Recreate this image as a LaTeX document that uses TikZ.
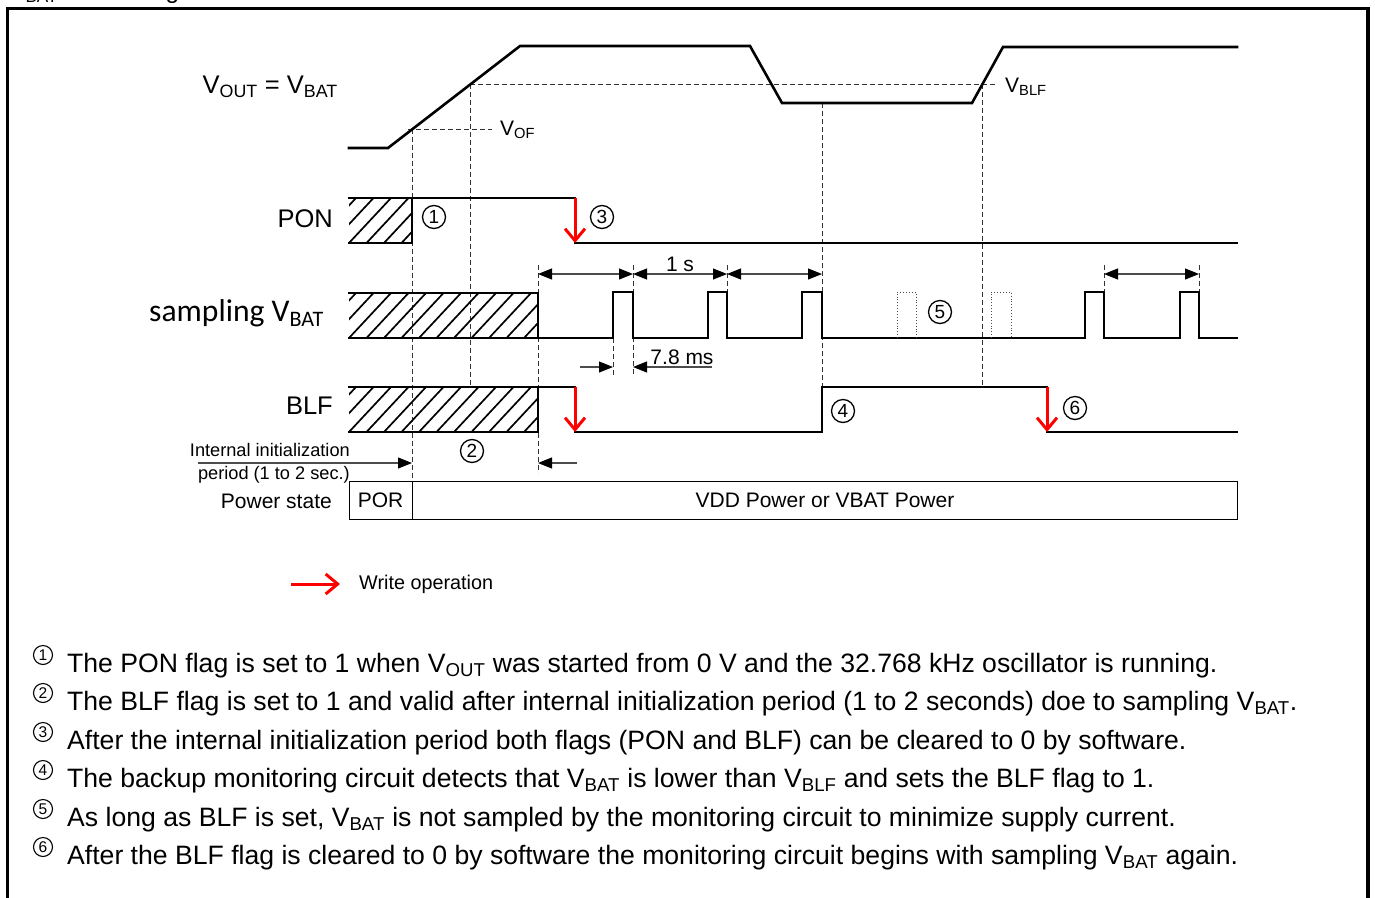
\documentclass[tikz,border=0pt]{standalone}
\usepackage{fontspec}
\setmainfont{Liberation Sans}
\newfontfamily\califont{Carlito}
\usetikzlibrary{arrows.meta}
\newcommand\sbs[1]{\textsubscript{#1}}
\newcommand\hatchbox[4]{%
  \begin{scope}
    \clip (#1,#2) rectangle (#3,#4);
    \foreach \k in {-3,...,12} {\draw[line width=1.7pt] ({#1+\k*17.5},#4) -- ++(42,-45);}
  \end{scope}}
\tikzset{
  sig/.style={line width=2.6pt, line join=miter, line cap=rect},
  dsh/.style={line width=0.9pt, black!80, dash pattern=on 5pt off 3pt},
  dimarrow/.style={line width=1.1pt, black!70, {Triangle[length=14pt,width=11pt,black]}-{Triangle[length=14pt,width=11pt,black]}},
  dimone/.style={line width=1.1pt, black!70, -{Triangle[length=14pt,width=11pt,black]}},
  wr/.style={red, line width=3pt, -{Straight Barb[length=12pt,width=20pt,line width=3pt]}},
  ghost/.style={line width=0.9pt, black!70, dotted},
  lbl/.style={inner sep=0pt, font=\fontsize{25.5}{30}\selectfont},
  small/.style={inner sep=0pt, font=\fontsize{21}{25}\selectfont},
  circ/.style={circle, draw, line width=1.3pt, inner sep=0pt, minimum size=23pt, font=\fontsize{19}{19}\selectfont},
  note/.style={inner sep=0pt, anchor=base west, font=\fontsize{26.6}{30}\selectfont},
  ncirc/.style={circle, draw, line width=1.1pt, inner sep=0pt, minimum size=19pt, font=\fontsize{15.5}{16}\selectfont},
}
\begin{document}
\begin{tikzpicture}[x=1pt,y=-1pt]
\useasboundingbox (0,0) rectangle (1375,897);
% frame
\draw[line width=3.5pt] (7.5,905) -- (7.5,8.5) -- (1368,8.5) -- (1368,905);
\node[inner sep=0pt, anchor=base west, font=\fontsize{24.5}{28}\selectfont] (cap) at (9,-1.5) {V\sbs{BAT} monitoring};

% labels
\node[lbl, anchor=east] (lvout) at (338,87) {V\sbs{OUT} = V\sbs{BAT}};
\node[lbl, anchor=east] (lpon) at (333,219) {PON};
\node[inner sep=0pt, anchor=east, font=\califont\fontsize{31.6}{34}\selectfont] (lsamp) at (324,313) {sampling V\sbs{BAT}};
\node[lbl, anchor=east] (lblf) at (333,406) {BLF};

% dashed helper lines
\draw[dsh] (408,129) -- (492,129);
\draw[dsh] (470,84) -- (995,84);
\draw[dsh] (412,129) -- (412,481);
\draw[dsh] (470,84) -- (470,387);
\draw[dsh] (538,265) -- (538,473);
\draw[dsh] (633,265) -- (633,377);
\draw[dsh] (613,338) -- (613,377);
\draw[dsh] (727,265) -- (727,292);
\draw[dsh] (822,103) -- (822,387);
\draw[dsh] (982,84) -- (982,387);
\draw[dsh] (1104,265) -- (1104,292);
\draw[dsh] (1199,265) -- (1199,292);
\node[small, anchor=west] (lvof) at (500,130) {V\sbs{OF}};
\node[small, anchor=west] (lvblf) at (1005,87) {V\sbs{BLF}};

% VOUT
\draw[sig] (349,148) -- (388,148) -- (520,46) -- (750,46) -- (782,103) -- (972,103) -- (1003,47) -- (1237,47);

% PON
\hatchbox{349}{198}{412}{243}
\draw[sig] (349,198) -- (575,198);
\draw[sig] (349,243) -- (412,243) -- (412,198);
\draw[sig] (575,243) -- (1237,243);
\draw[wr] (575,198) -- (575,243);
\node[circ] (c1) at (434,217) {1};
\node[circ] (c3) at (602,217) {3};

% sampling
\hatchbox{349}{293}{538}{338}
\draw[sig] (349,293) -- (538,293) -- (538,338);
\draw[sig] (349,338) -- (613,338) -- (613,292) -- (633,292) -- (633,338) -- (708,338) -- (708,292) -- (727,292) -- (727,338)
  -- (802,338) -- (802,292) -- (822,292) -- (822,338) -- (1085,338) -- (1085,292) -- (1104,292) -- (1104,338)
  -- (1180,338) -- (1180,292) -- (1199,292) -- (1199,338) -- (1237,338);
\draw[ghost] (897,338) -- (897,292) -- (916,292) -- (916,338);
\draw[ghost] (991,338) -- (991,292) -- (1011,292) -- (1011,338);
\node[circ] (c5) at (940,312) {5};

% dimension arrows
\draw[dimarrow] (538,274) -- (633,274);
\draw[dimarrow] (633,274) -- (727,274);
\draw[dimarrow] (727,274) -- (822,274);
\draw[dimarrow] (1104,274) -- (1199,274);
\node[small, anchor=base] (l1s) at (680,271) {1 s};
\draw[dimone] (580,367) -- (613,367);
\draw[dimone] (712,367) -- (633,367);
\node[small, anchor=base] (l78) at (682,364) {7.8 ms};

% BLF
\hatchbox{349}{387}{538}{432}
\draw[sig] (349,387) -- (575,387);
\draw[sig] (349,432) -- (538,432) -- (538,387);
\draw[sig] (575,432) -- (822,432) -- (822,387) -- (1047,387);
\draw[sig] (1047,432) -- (1237,432);
\draw[wr] (575,387) -- (575,432);
\draw[wr] (1047,387) -- (1047,432);
\node[circ] (c4) at (843,411) {4};
\node[circ] (c6) at (1075,408) {6};

% init period
\node[inner sep=0pt, anchor=base east, font=\fontsize{18.2}{21}\selectfont] (linit1) at (350,456) {Internal initialization};
\node[inner sep=0pt, anchor=base east, font=\fontsize{18.2}{21}\selectfont] (linit2) at (350,479) {period (1 to 2 sec.)};
\draw[dimone] (198,463) -- (412,463);
\draw[dimone] (577,463) -- (538,463);
\node[circ] (c2) at (472,451) {2};

% power state
\draw[line width=1pt] (349,481) rectangle (1237,519);
\draw[line width=1pt] (412,481) -- (412,519);
\node[small, anchor=east] (lps) at (332,501) {Power state};
\node[small] (lpor) at (380.5,500) {POR};
\node[small] (lvdd) at (825,500) {VDD Power or VBAT Power};

% legend
\draw[wr] (291,584) -- (340,584);
\node[inner sep=0pt, anchor=west, font=\fontsize{19.8}{23}\selectfont] (lwr) at (359,584) {Write operation};

% notes
\node[ncirc] (n1) at (43,655) {1};
\node[note] (t1) at (67,672) {The PON flag is set to 1 when V\sbs{OUT} was started from 0 V and the 32.768 kHz oscillator is running.};
\node[ncirc] (n2) at (43,693) {2};
\node[note] (t2) at (67,710) {The BLF flag is set to 1 and valid after internal initialization period (1 to 2 seconds) doe to sampling V\sbs{BAT}.};
\node[ncirc] (n3) at (43,732) {3};
\node[note] (t3) at (67,749) {After the internal initialization period both flags (PON and BLF) can be cleared to 0 by software.};
\node[ncirc] (n4) at (43,770) {4};
\node[note] (t4) at (67,787) {The backup monitoring circuit detects that V\sbs{BAT} is lower than V\sbs{BLF} and sets the BLF flag to 1.};
\node[ncirc] (n5) at (43,809) {5};
\node[note] (t5) at (67,826) {As long as BLF is set, V\sbs{BAT} is not sampled by the monitoring circuit to minimize supply current.};
\node[ncirc] (n6) at (43,847) {6};
\node[note] (t6) at (67,864) {After the BLF flag is cleared to 0 by software the monitoring circuit begins with sampling V\sbs{BAT} again.};
\end{tikzpicture}
\end{document}
